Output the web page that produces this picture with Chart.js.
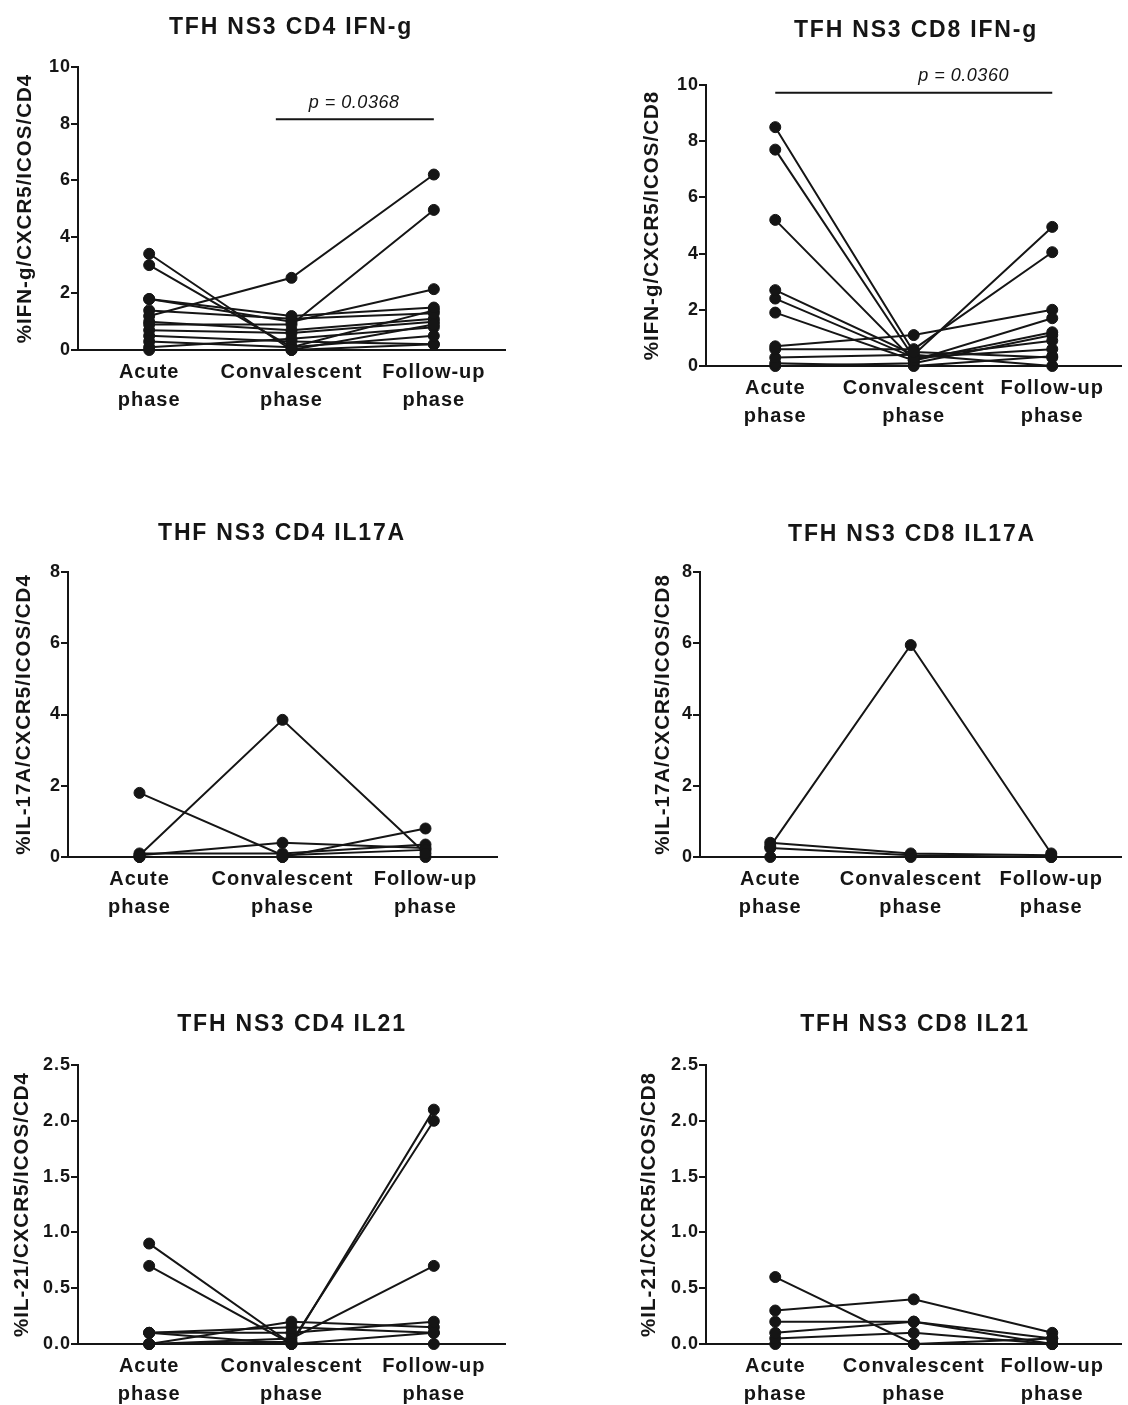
<!DOCTYPE html>
<html><head><meta charset="utf-8">
<script src="https://cdn.jsdelivr.net/npm/chart.js@4.4.1/dist/chart.umd.min.js"></script>
<style>
html,body{margin:0;padding:0;background:#fff;}
body{width:1128px;height:1405px;position:relative;overflow:hidden;}
canvas{position:absolute;}
</style></head><body>
<canvas id="p1"></canvas><canvas id="p2"></canvas><canvas id="p3"></canvas>
<canvas id="p4"></canvas><canvas id="p5"></canvas><canvas id="p6"></canvas>
<script>
// ---------- data ----------
const phases = [['Acute', 'phase'], ['Convalescent', 'phase'], ['Follow-up', 'phase']];

const cd4IfngTitle = 'TFH NS3 CD4 IFN-g';
const cd4IfngAxisTitle = '%IFN-g/CXCR5/ICOS/CD4';
const cd4IfngTicks = [0, 2, 4, 6, 8, 10];
const cd4IfngLines = [
  [3.4, 0.0, 0.9], [3.0, 0.1, 0.5], [1.2, 2.55, 6.2], [0.9, 0.9, 4.95],
  [1.8, 1.0, 2.15], [1.8, 1.2, 1.5], [1.4, 1.1, 1.3], [1.0, 0.7, 1.1],
  [0.7, 0.6, 1.0], [0.5, 0.3, 0.2], [0.3, 0.1, 1.4], [0.1, 0.4, 0.8], [0.0, 0.0, 0.2]
];
const cd4IfngPText = 'p = 0.0368';

const cd8IfngTitle = 'TFH NS3 CD8 IFN-g';
const cd8IfngAxisTitle = '%IFN-g/CXCR5/ICOS/CD8';
const cd8IfngTicks = [0, 2, 4, 6, 8, 10];
const cd8IfngLines = [
  [8.5, 0.5, 0.3], [7.7, 0.3, 0.6], [5.2, 0.2, 1.2], [2.7, 0.4, 0.0],
  [2.4, 0.3, 0.9], [1.9, 0.2, 1.7], [0.7, 1.1, 2.0], [0.6, 0.6, 4.05],
  [0.3, 0.4, 4.95], [0.1, 0.0, 0.35], [0.0, 0.1, 1.1]
];
const cd8IfngPText = 'p = 0.0360';

const cd4Il17Title = 'THF NS3 CD4 IL17A';
const cd4Il17AxisTitle = '%IL-17A/CXCR5/ICOS/CD4';
const cd4Il17Ticks = [0, 2, 4, 6, 8];
const cd4Il17Lines = [
  [0.05, 3.85, 0.1], [1.8, 0.05, 0.2], [0.05, 0.4, 0.25],
  [0.0, 0.0, 0.8], [0.1, 0.1, 0.35], [0.0, 0.0, 0.0]
];

const cd8Il17Title = 'TFH NS3 CD8 IL17A';
const cd8Il17AxisTitle = '%IL-17A/CXCR5/ICOS/CD8';
const cd8Il17Ticks = [0, 2, 4, 6, 8];
const cd8Il17Lines = [
  [0.3, 5.95, 0.1], [0.4, 0.1, 0.05], [0.25, 0.05, 0.0], [0.0, 0.0, 0.0]
];

const cd4Il21Title = 'TFH NS3 CD4 IL21';
const cd4Il21AxisTitle = '%IL-21/CXCR5/ICOS/CD4';
const cd4Il21Ticks = [0.0, 0.5, 1.0, 1.5, 2.0, 2.5];
const cd4Il21Lines = [
  [0.9, 0.0, 0.1], [0.7, 0.0, 0.0], [0.1, 0.0, 2.1], [0.0, 0.02, 2.0],
  [0.0, 0.05, 0.7], [0.1, 0.1, 0.2], [0.0, 0.2, 0.15], [0.1, 0.15, 0.1]
];

const cd8Il21Title = 'TFH NS3 CD8 IL21';
const cd8Il21AxisTitle = '%IL-21/CXCR5/ICOS/CD8';
const cd8Il21Ticks = [0.0, 0.5, 1.0, 1.5, 2.0, 2.5];
const cd8Il21Lines = [
  [0.6, 0.0, 0.05], [0.3, 0.4, 0.1], [0.2, 0.2, 0.0],
  [0.1, 0.2, 0.05], [0.05, 0.1, 0.0], [0.0, 0.0, 0.0]
];

// ---------- layout / style ----------
const FONT = '"Liberation Sans", Arial, Helvetica, sans-serif';
const INK = '#151515';

const panelText = {
  id: 'panelText',
  beforeDraw(chart) { chart.ctx.letterSpacing = '1px'; },
  afterDraw(chart, args, o) {
    const ctx = chart.ctx;
    ctx.save();
    ctx.fillStyle = INK;
    ctx.textAlign = 'center';
    ctx.textBaseline = 'alphabetic';
    ctx.letterSpacing = '1.8px';
    ctx.font = 'bold 23px ' + FONT;
    ctx.fillText(o.title, o.titleX, o.titleY + 8);
    if (o.pText) {
      const xs = chart.scales.x, ys = chart.scales.y;
      const x1 = xs.getPixelForValue(o.pFrom), x2 = xs.getPixelForValue(o.pTo);
      const yy = ys.getPixelForValue(o.pLevel);
      ctx.strokeStyle = INK; ctx.lineWidth = 2;
      ctx.beginPath(); ctx.moveTo(x1, yy); ctx.lineTo(x2, yy); ctx.stroke();
      ctx.letterSpacing = '0.5px';
      ctx.font = 'italic 18px ' + FONT;
      ctx.fillText(o.pText, xs.getPixelForValue(o.pTextAt), yy - 11.5);
    }
    ctx.restore();
  }
};

function makePanel(id, box, area, yTitleX, titleX, titleY, title, axisTitle, ticks, lines, decimals, pOpts) {
  const cv = document.getElementById(id);
  cv.style.left = box.left + 'px';
  cv.style.top = box.top + 'px';
  cv.width = box.width; cv.height = box.height;
  cv.style.width = box.width + 'px'; cv.style.height = box.height + 'px';
  const padL = Math.max(0, yTitleX - 25 - box.left);
  const yW = area.left - box.left - padL;
  const xH = box.top + box.height - area.bottom;
  const lineH = 20.5 * 1.2;
  const titlePad = (yTitleX - box.left - padL) - lineH / 2;
  const datasets = lines.map(v => ({
    data: v,
    borderColor: INK, backgroundColor: INK,
    borderWidth: 2, pointRadius: 5.5, pointHoverRadius: 5.5,
    pointBackgroundColor: INK, pointBorderColor: INK, pointBorderWidth: 1,
    tension: 0, clip: false
  }));
  const plug = Object.assign({
    title: title, titleX: titleX - box.left, titleY: titleY - box.top
  }, pOpts || {});
  new Chart(cv, {
    type: 'line',
    data: { labels: phases, datasets: datasets },
    options: {
      responsive: false, animation: false, devicePixelRatio: 1,
      layout: { padding: { left: padL, top: area.top - box.top, right: box.left + box.width - area.right, bottom: 0 } },
      plugins: { legend: { display: false }, tooltip: { enabled: false }, panelText: plug },
      scales: {
        x: {
          type: 'category', offset: true,
          grid: { display: false, drawTicks: false },
          border: { display: true, color: INK, width: 2 },
          ticks: { color: INK, padding: 8, maxRotation: 0, autoSkip: false,
                   font: { family: FONT, size: 20, weight: 'bold', lineHeight: 1.4 } },
          afterFit: s => { s.height = xH; }
        },
        y: {
          min: ticks[0], max: ticks[ticks.length - 1],
          afterBuildTicks: s => { s.ticks = ticks.map(v => ({ value: v })); },
          grid: { display: true, drawOnChartArea: false, drawTicks: true, tickLength: 7, color: INK, lineWidth: 2 },
          border: { display: true, color: INK, width: 2 },
          ticks: { color: INK, padding: 0,
                   font: { family: FONT, size: 18, weight: 'bold' },
                   callback: v => Number(v).toFixed(decimals) },
          title: { display: true, text: axisTitle, color: INK, padding: { top: titlePad, bottom: 0 },
                   font: { family: FONT, size: 20.5, weight: 'bold', lineHeight: 1.2 } },
          afterFit: s => { s.width = yW; }
        }
      }
    },
    plugins: [panelText]
  });
}

makePanel('p1', {left: 0, top: 0, width: 564, height: 430}, {left: 78, right: 505, top: 67, bottom: 350},
  25, 291, 26, cd4IfngTitle, cd4IfngAxisTitle, cd4IfngTicks, cd4IfngLines, 0,
  {pText: cd4IfngPText, pFrom: 0.89, pTo: 2, pLevel: 8.15, pTextAt: 1.44});
makePanel('p2', {left: 564, top: 0, width: 564, height: 430}, {left: 706, right: 1128, top: 85, bottom: 366},
  652, 916, 29, cd8IfngTitle, cd8IfngAxisTitle, cd8IfngTicks, cd8IfngLines, 0,
  {pText: cd8IfngPText, pFrom: 0, pTo: 2, pLevel: 9.72, pTextAt: 1.36});
makePanel('p3', {left: 0, top: 430, width: 564, height: 500}, {left: 68, right: 497, top: 572, bottom: 857},
  24, 282, 532, cd4Il17Title, cd4Il17AxisTitle, cd4Il17Ticks, cd4Il17Lines, 0, null);
makePanel('p4', {left: 564, top: 430, width: 564, height: 500}, {left: 700, right: 1128, top: 572, bottom: 857},
  663, 912, 533, cd8Il17Title, cd8Il17AxisTitle, cd8Il17Ticks, cd8Il17Lines, 0, null);
makePanel('p5', {left: 0, top: 930, width: 564, height: 475}, {left: 78, right: 505, top: 1065, bottom: 1344},
  22, 292, 1023, cd4Il21Title, cd4Il21AxisTitle, cd4Il21Ticks, cd4Il21Lines, 1, null);
makePanel('p6', {left: 564, top: 930, width: 564, height: 475}, {left: 706, right: 1128, top: 1065, bottom: 1344},
  649, 915, 1023, cd8Il21Title, cd8Il21AxisTitle, cd8Il21Ticks, cd8Il21Lines, 1, null);
</script>
</body></html>
